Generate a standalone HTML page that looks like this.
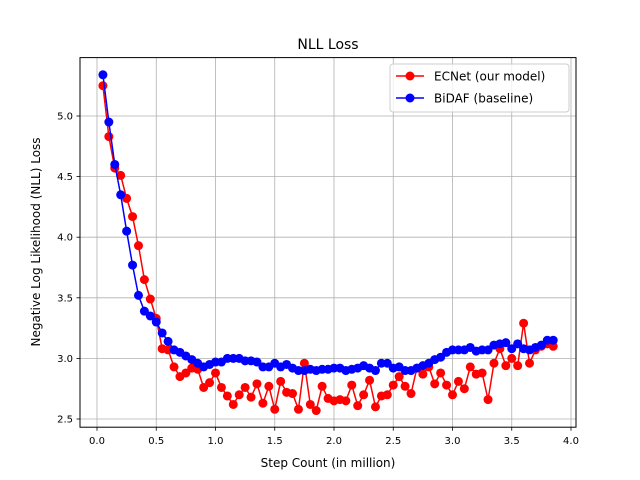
<!DOCTYPE html>
<html><head><meta charset="utf-8"><style>
body{margin:0;background:#fff;}
svg{display:block;font-family:"DejaVu Sans","Liberation Sans",sans-serif;}
</style></head><body>
<svg id="chart" width="640" height="480" xmlns="http://www.w3.org/2000/svg">
<rect width="640" height="480" fill="#fff"/>
<g id="grid"></g>
<g id="series"></g>
<rect x="80" y="57.6" width="496" height="369.6" fill="none" stroke="#000" stroke-width="1"/>
<g id="ticks"></g>
<text x="328" y="49" text-anchor="middle" font-size="14">NLL Loss</text>
<text x="328" y="467" text-anchor="middle" font-size="12">Step Count (in million)</text>
<text transform="translate(40,242) rotate(-90)" text-anchor="middle" font-size="12">Negative Log Likelihood (NLL) Loss</text>
<g>
<rect x="390" y="64" width="179" height="48" rx="3" fill="#fff" fill-opacity="0.8" stroke="#ccc"/>
<g>
<line x1="396" y1="76" x2="424" y2="76" stroke="#f00" stroke-width="1.5"/><circle cx="410" cy="76" r="4.5" fill="#f00"/>
<text x="434" y="80.5" font-size="12">ECNet (our model)</text></g>
<g>
<line x1="396" y1="98" x2="424" y2="98" stroke="#00f" stroke-width="1.5"/><circle cx="410" cy="98" r="4.5" fill="#00f"/>
<text x="434" y="102.5" font-size="12">BiDAF (baseline)</text></g>
</g>
</svg>
<script>
const steps = [];
for (let i = 1; i <= 77; i++) steps.push(+(i*0.05).toFixed(2));
const ecnet = [5.25,4.83,4.57,4.51,4.32,4.17,3.93,3.65,3.49,3.33,3.08,3.07,2.93,2.85,2.88,2.92,2.91,2.76,2.80,2.88,2.76,2.69,2.62,2.70,2.76,2.68,2.79,2.63,2.77,2.58,2.81,2.72,2.71,2.58,2.96,2.62,2.57,2.77,2.67,2.65,2.66,2.65,2.78,2.61,2.70,2.82,2.60,2.69,2.70,2.78,2.85,2.77,2.71,2.92,2.87,2.93,2.79,2.88,2.78,2.70,2.81,2.75,2.93,2.87,2.88,2.66,2.96,3.08,2.94,3.00,2.94,3.29,2.96,3.07,3.10,3.12,3.10];
const bidaf = [5.34,4.95,4.60,4.35,4.05,3.77,3.52,3.39,3.35,3.30,3.21,3.14,3.07,3.05,3.02,2.99,2.96,2.93,2.95,2.97,2.97,3.00,3.00,3.00,2.98,2.98,2.97,2.93,2.93,2.96,2.93,2.95,2.92,2.90,2.90,2.91,2.90,2.91,2.91,2.92,2.92,2.90,2.91,2.92,2.94,2.92,2.90,2.96,2.96,2.92,2.93,2.90,2.90,2.92,2.94,2.96,2.99,3.01,3.05,3.07,3.07,3.07,3.09,3.06,3.07,3.07,3.11,3.12,3.13,3.08,3.12,3.08,3.07,3.09,3.11,3.15,3.15];
const xTicks = [0.0,0.5,1.0,1.5,2.0,2.5,3.0,3.5,4.0];
const xTickLabels = ["0.0","0.5","1.0","1.5","2.0","2.5","3.0","3.5","4.0"];
const yTicks = [2.5,3.0,3.5,4.0,4.5,5.0];
const yTickLabels = ["2.5","3.0","3.5","4.0","4.5","5.0"];

const NS = "http://www.w3.org/2000/svg";
const X = v => 97 + v*118.5;
const Y = v => 116 + (5 - v)*121.2;
function mk(tag, attrs, parent){const e=document.createElementNS(NS,tag);for(const k in attrs)e.setAttribute(k,attrs[k]);parent.appendChild(e);return e;}
const grid = document.getElementById('grid'), ticks = document.getElementById('ticks'), series = document.getElementById('series');
xTicks.forEach((t,i)=>{
  const g = mk('line',{x1:X(t),x2:X(t),y1:57.6,y2:427.2,stroke:'#b0b0b0','stroke-width':0.8},grid);
  
  
  mk('line',{x1:X(t),x2:X(t),y1:427.2,y2:430.7,stroke:'#000','stroke-width':0.8},ticks);
  const tx = mk('text',{x:X(t),y:444,'text-anchor':'middle','font-size':10},ticks);
  tx.textContent = xTickLabels[i];
  
  
});
yTicks.forEach((t,i)=>{
  const g = mk('line',{x1:80,x2:576,y1:Y(t),y2:Y(t),stroke:'#b0b0b0','stroke-width':0.8},grid);
  
  
  mk('line',{x1:76.5,x2:80,y1:Y(t),y2:Y(t),stroke:'#000','stroke-width':0.8},ticks);
  const tx = mk('text',{x:73,y:Y(t)+3.5,'text-anchor':'end','font-size':10},ticks);
  tx.textContent = yTickLabels[i];
  
  
});
function draw(vals, color, name){
  const g = mk('g',{},series);
  
  
  const pl = mk('polyline',{points:vals.map((v,i)=>X(steps[i])+','+Y(v)).join(' '),fill:'none',stroke:color,'stroke-width':1.5},g);
  
  
  vals.forEach((v,i)=>{
    const c = mk('circle',{cx:X(steps[i]),cy:Y(v),r:4.5,fill:color},g);
    
    
  });
}
draw(ecnet,'#f00','ecnet');
draw(bidaf,'#00f','bidaf');
</script>
</body></html>
